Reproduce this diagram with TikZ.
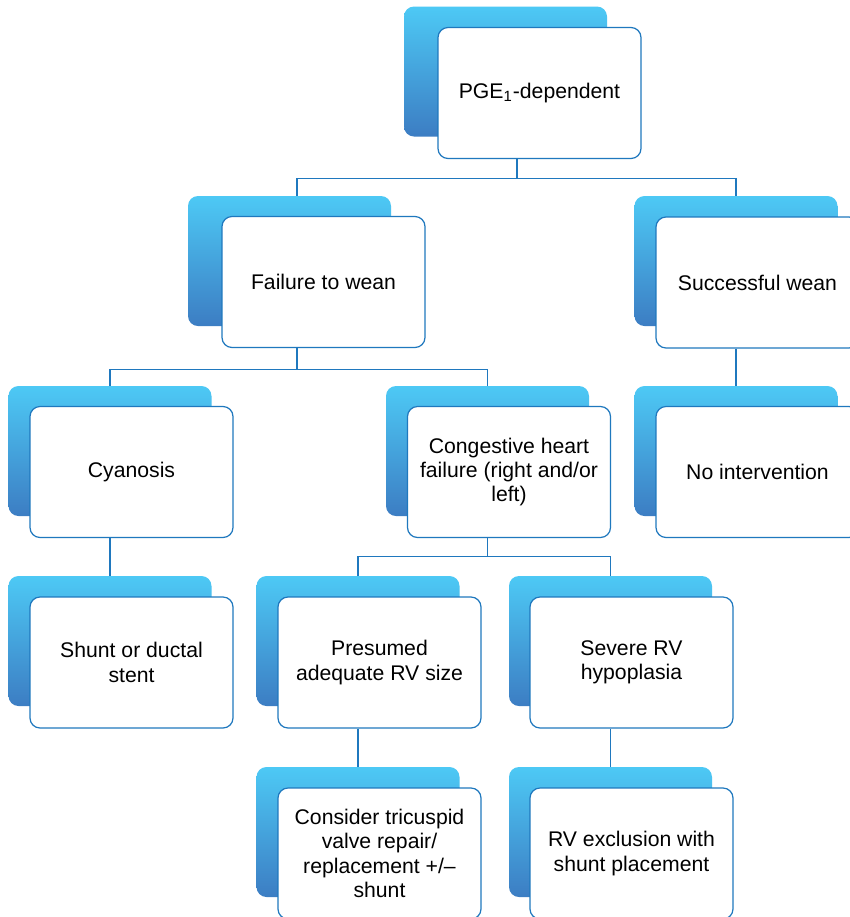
\documentclass[tikz,border=0pt]{standalone}
\usepackage{fontspec}
\setmainfont{Liberation Sans}
\usepackage{tikz}
\definecolor{skytop}{HTML}{4DC9F5}
\definecolor{skybot}{HTML}{3C7DC3}
\definecolor{edgeblue}{HTML}{1F78BE}
\begin{document}
\begin{tikzpicture}[x=0.5pt,y=-0.5pt,
  backbox/.style={rounded corners=5pt,minimum width=101.5pt,minimum height=65pt,inner sep=0pt,top color=skytop,bottom color=skybot,draw=none},
  frontbox/.style={draw=edgeblue,line width=0.6pt,fill=white,rounded corners=5pt,minimum width=101.5pt,minimum height=65.5pt,inner sep=2pt,align=center,font=\fontsize{10.6}{12.2}\selectfont},
  link/.style={draw=edgeblue,line width=0.55pt}]
\useasboundingbox (0,0) rectangle (850,917);
\clip (0,0) rectangle (850,917);
\fill[white] (0,0) rectangle (850,917);
\node[backbox] (pgeb) at (505.5,71.5) {};
\node[frontbox] (pge) at (539.5,93) {PGE\textsubscript{1}-dependent};
\node[backbox] (failb) at (289.5,261) {};
\node[frontbox] (fail) at (323.5,282) {Failure to wean};
\node[backbox] (succb) at (736,261) {};
\node[frontbox] (succ) at (757.5,282.5) {Successful wean};
\node[backbox] (cyanb) at (110,451) {};
\node[frontbox] (cyan) at (131.5,472) {Cyanosis};
\node[backbox] (chfb) at (487.5,451) {};
\node[frontbox] (chf) at (509,472) {Congestive heart\\failure (right and/or\\left)};
\node[backbox] (nointb) at (736,451) {};
\node[frontbox] (noint) at (757.5,472) {No intervention};
\node[backbox] (shuntb) at (110,641) {};
\node[frontbox] (shunt) at (131.5,662.5) {Shunt or ductal\\stent};
\node[backbox] (presb) at (358,641) {};
\node[frontbox] (pres) at (379.5,662.5) {Presumed\\adequate RV size};
\node[backbox] (sevb) at (610.5,641) {};
\node[frontbox] (sev) at (631.5,662.5) {Severe RV\\hypoplasia};
\node[backbox] (tricb) at (358,832) {};
\node[frontbox] (tric) at (379.5,853.5) {Consider tricuspid\\valve repair/\\replacement +/\textendash\\shunt};
\node[backbox] (exclb) at (610.5,832) {};
\node[frontbox] (excl) at (631.5,853.5) {RV exclusion with\\shunt placement};
\draw[link] ([xshift=-11.25pt]pge.south) -- ++(0,19) -| ([xshift=3.75pt]failb.north);
\draw[link] ([xshift=-11.25pt]pge.south) -- ++(0,19) -| (succb.north);
\draw[link] ([xshift=-13.25pt]fail.south) -- ++(0,21) -| (cyanb.north);
\draw[link] ([xshift=-13.25pt]fail.south) -- ++(0,21) -| (chfb.north);
\draw[link] (succ.south -| nointb.north) -- (nointb.north);
\draw[link] (cyan.south -| shuntb.north) -- (shuntb.north);
\draw[link] (chf.south -| chfb.north) -- ++(0,18) -| (presb.north);
\draw[link] (chf.south -| chfb.north) -- ++(0,18) -| (sevb.north);
\draw[link] (pres.south -| tricb.north) -- (tricb.north);
\draw[link] (sev.south -| exclb.north) -- (exclb.north);
\end{tikzpicture}
\end{document}
